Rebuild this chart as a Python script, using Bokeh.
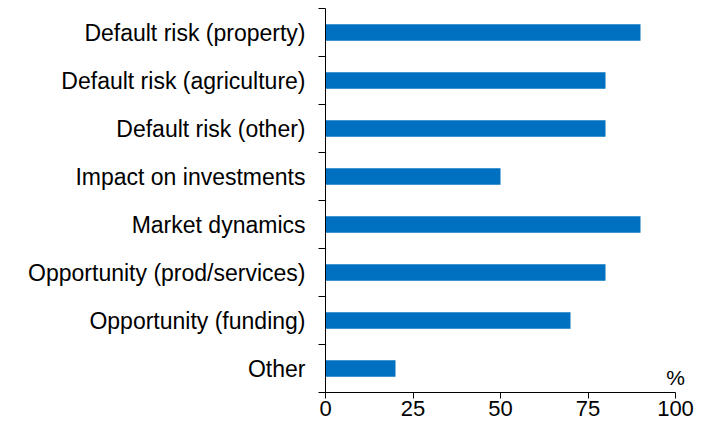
from bokeh.plotting import figure
from bokeh.models import Range1d, FixedTicker, Label
from bokeh.embed import file_html
from bokeh.resources import INLINE

categories = ["Default risk (property)", "Default risk (agriculture)", "Default risk (other)",
              "Impact on investments", "Market dynamics", "Opportunity (prod/services)",
              "Opportunity (funding)", "Other"]
values = [90, 80, 80, 50, 90, 80, 70, 20]
x_ticks = [0, 25, 50, 75, 100]

n = len(categories)
ypos = [n - 1 - i for i in range(n)]
boundaries = [i - 0.5 for i in range(n + 1)]

FONT = "Liberation Sans"

p = figure(width=715, height=425, output_backend="svg", toolbar_location=None,
           x_range=Range1d(0, 106), y_range=Range1d(-0.5, n - 0.5),
           min_border_left=325, min_border_right=19, min_border_top=8, min_border_bottom=33)
p.outline_line_color = None
p.xgrid.grid_line_color = None
p.ygrid.grid_line_color = None

p.hbar(y=ypos, right=values, left=0, height=0.34, color="#0070C0", line_color=None)

p.xaxis.bounds = (x_ticks[0], x_ticks[-1])
p.xaxis.ticker = FixedTicker(ticks=x_ticks)
p.xaxis.major_tick_out = 6
p.xaxis.major_tick_in = 0
p.xaxis.minor_tick_line_color = None
p.xaxis.major_label_text_font = FONT
p.xaxis.major_label_text_font_size = "22px"
p.xaxis.major_label_text_color = "black"
p.xaxis.major_label_standoff = 2
p.xaxis.axis_line_color = "black"
p.xaxis.major_tick_line_color = "black"

p.yaxis.ticker = FixedTicker(ticks=ypos, minor_ticks=boundaries)
p.yaxis.major_label_overrides = {y: c for y, c in zip(ypos, categories)}
p.yaxis.major_tick_out = 0
p.yaxis.major_tick_in = 0
p.yaxis.minor_tick_out = 7
p.yaxis.minor_tick_in = 0
p.yaxis.minor_tick_line_color = "black"
p.yaxis.major_label_standoff = 13
p.yaxis.major_label_text_font = FONT
p.yaxis.major_label_text_font_size = "23px"
p.yaxis.major_label_text_color = "black"
p.yaxis.axis_line_color = "black"

p.add_layout(Label(x=x_ticks[-1], y=-0.5, text="%", text_align="center", text_baseline="bottom",
                   y_offset=4, text_font=FONT, text_font_size="21px", text_color="black"))

open("out.html", "w").write(file_html(p, INLINE))
